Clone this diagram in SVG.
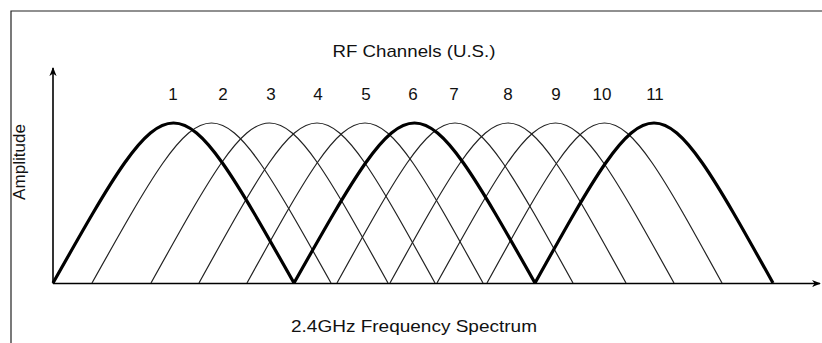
<svg xmlns="http://www.w3.org/2000/svg" width="822" height="343" viewBox="0 0 822 343">
  <style>
    text { font-family: "Liberation Sans", Arial, sans-serif; fill: #111; }
    .lbl { font-size: 17px; text-anchor: middle; }
    .num { font-size: 17px; text-anchor: middle; }
    .thin { fill: none; stroke: #222; stroke-width: 1.2; }
    .bold { fill: none; stroke: #000; stroke-width: 3.2; }
    .axis { fill: none; stroke: #000; stroke-width: 1.6; }
  </style>
  <defs>
    <marker id="arr" viewBox="0 0 10 10" refX="9" refY="5" markerWidth="9" markerHeight="9" markerUnits="userSpaceOnUse" orient="auto">
      <path d="M0,1 L10,5 L0,9 L3,5 Z" fill="#000"/>
    </marker>
  </defs>
  <rect width="822" height="343" fill="#fff"/>
  <g id="frame">
    <path d="M11,343 V11 H822" fill="none" stroke="#222" stroke-width="1.2"/>
  </g>
  <g id="axes">
    <line class="axis" x1="53" y1="283.5" x2="53" y2="68" marker-end="url(#arr)"/>
    <line class="axis" x1="53" y1="283.5" x2="820" y2="283.5" marker-end="url(#arr)"/>
  </g>
  <g id="channels">
    <path id="ch2" class="thin" d="M92,283 C211.5,69.7 211.5,69.7 331,283"/>
    <path id="ch3" class="thin" d="M151,283 C269.5,69.7 269.5,69.7 388,283"/>
    <path id="ch4" class="thin" d="M199,283 C317,69.7 317,69.7 435,283"/>
    <path id="ch5" class="thin" d="M247,283 C365,69.7 365,69.7 483,283"/>
    <path id="ch7" class="thin" d="M337,283 C455,69.7 455,69.7 573,283"/>
    <path id="ch8" class="thin" d="M390,283 C508,69.7 508,69.7 626,283"/>
    <path id="ch9" class="thin" d="M437,283 C555.5,69.7 555.5,69.7 674,283"/>
    <path id="ch10" class="thin" d="M487,283 C604.5,69.7 604.5,69.7 722,283"/>
    <path id="ch1" class="bold" d="M53,283 C173.5,69.7 173.5,69.7 294,283"/>
    <path id="ch6" class="bold" d="M294,283 C414.5,69.7 414.5,69.7 535,283"/>
    <path id="ch11" class="bold" d="M535,283 C654,69.7 654,69.7 773,283"/>
  </g>
  <g id="labels">
    <text class="lbl" x="414" y="57" textLength="163" lengthAdjust="spacingAndGlyphs">RF Channels (U.S.)</text>
    <text class="num" x="173" y="100">1</text>
    <text class="num" x="223" y="100">2</text>
    <text class="num" x="271" y="100">3</text>
    <text class="num" x="318" y="100">4</text>
    <text class="num" x="366" y="100">5</text>
    <text class="num" x="413" y="100">6</text>
    <text class="num" x="454" y="100">7</text>
    <text class="num" x="508" y="100">8</text>
    <text class="num" x="556" y="100">9</text>
    <text class="num" x="602" y="100">10</text>
    <text class="num" x="655" y="100">11</text>
    <text class="lbl" x="414" y="332" textLength="246" lengthAdjust="spacingAndGlyphs">2.4GHz Frequency Spectrum</text>
    <text class="lbl" transform="translate(25,162) rotate(-90)" textLength="76" lengthAdjust="spacingAndGlyphs">Amplitude</text>
  </g>
</svg>
